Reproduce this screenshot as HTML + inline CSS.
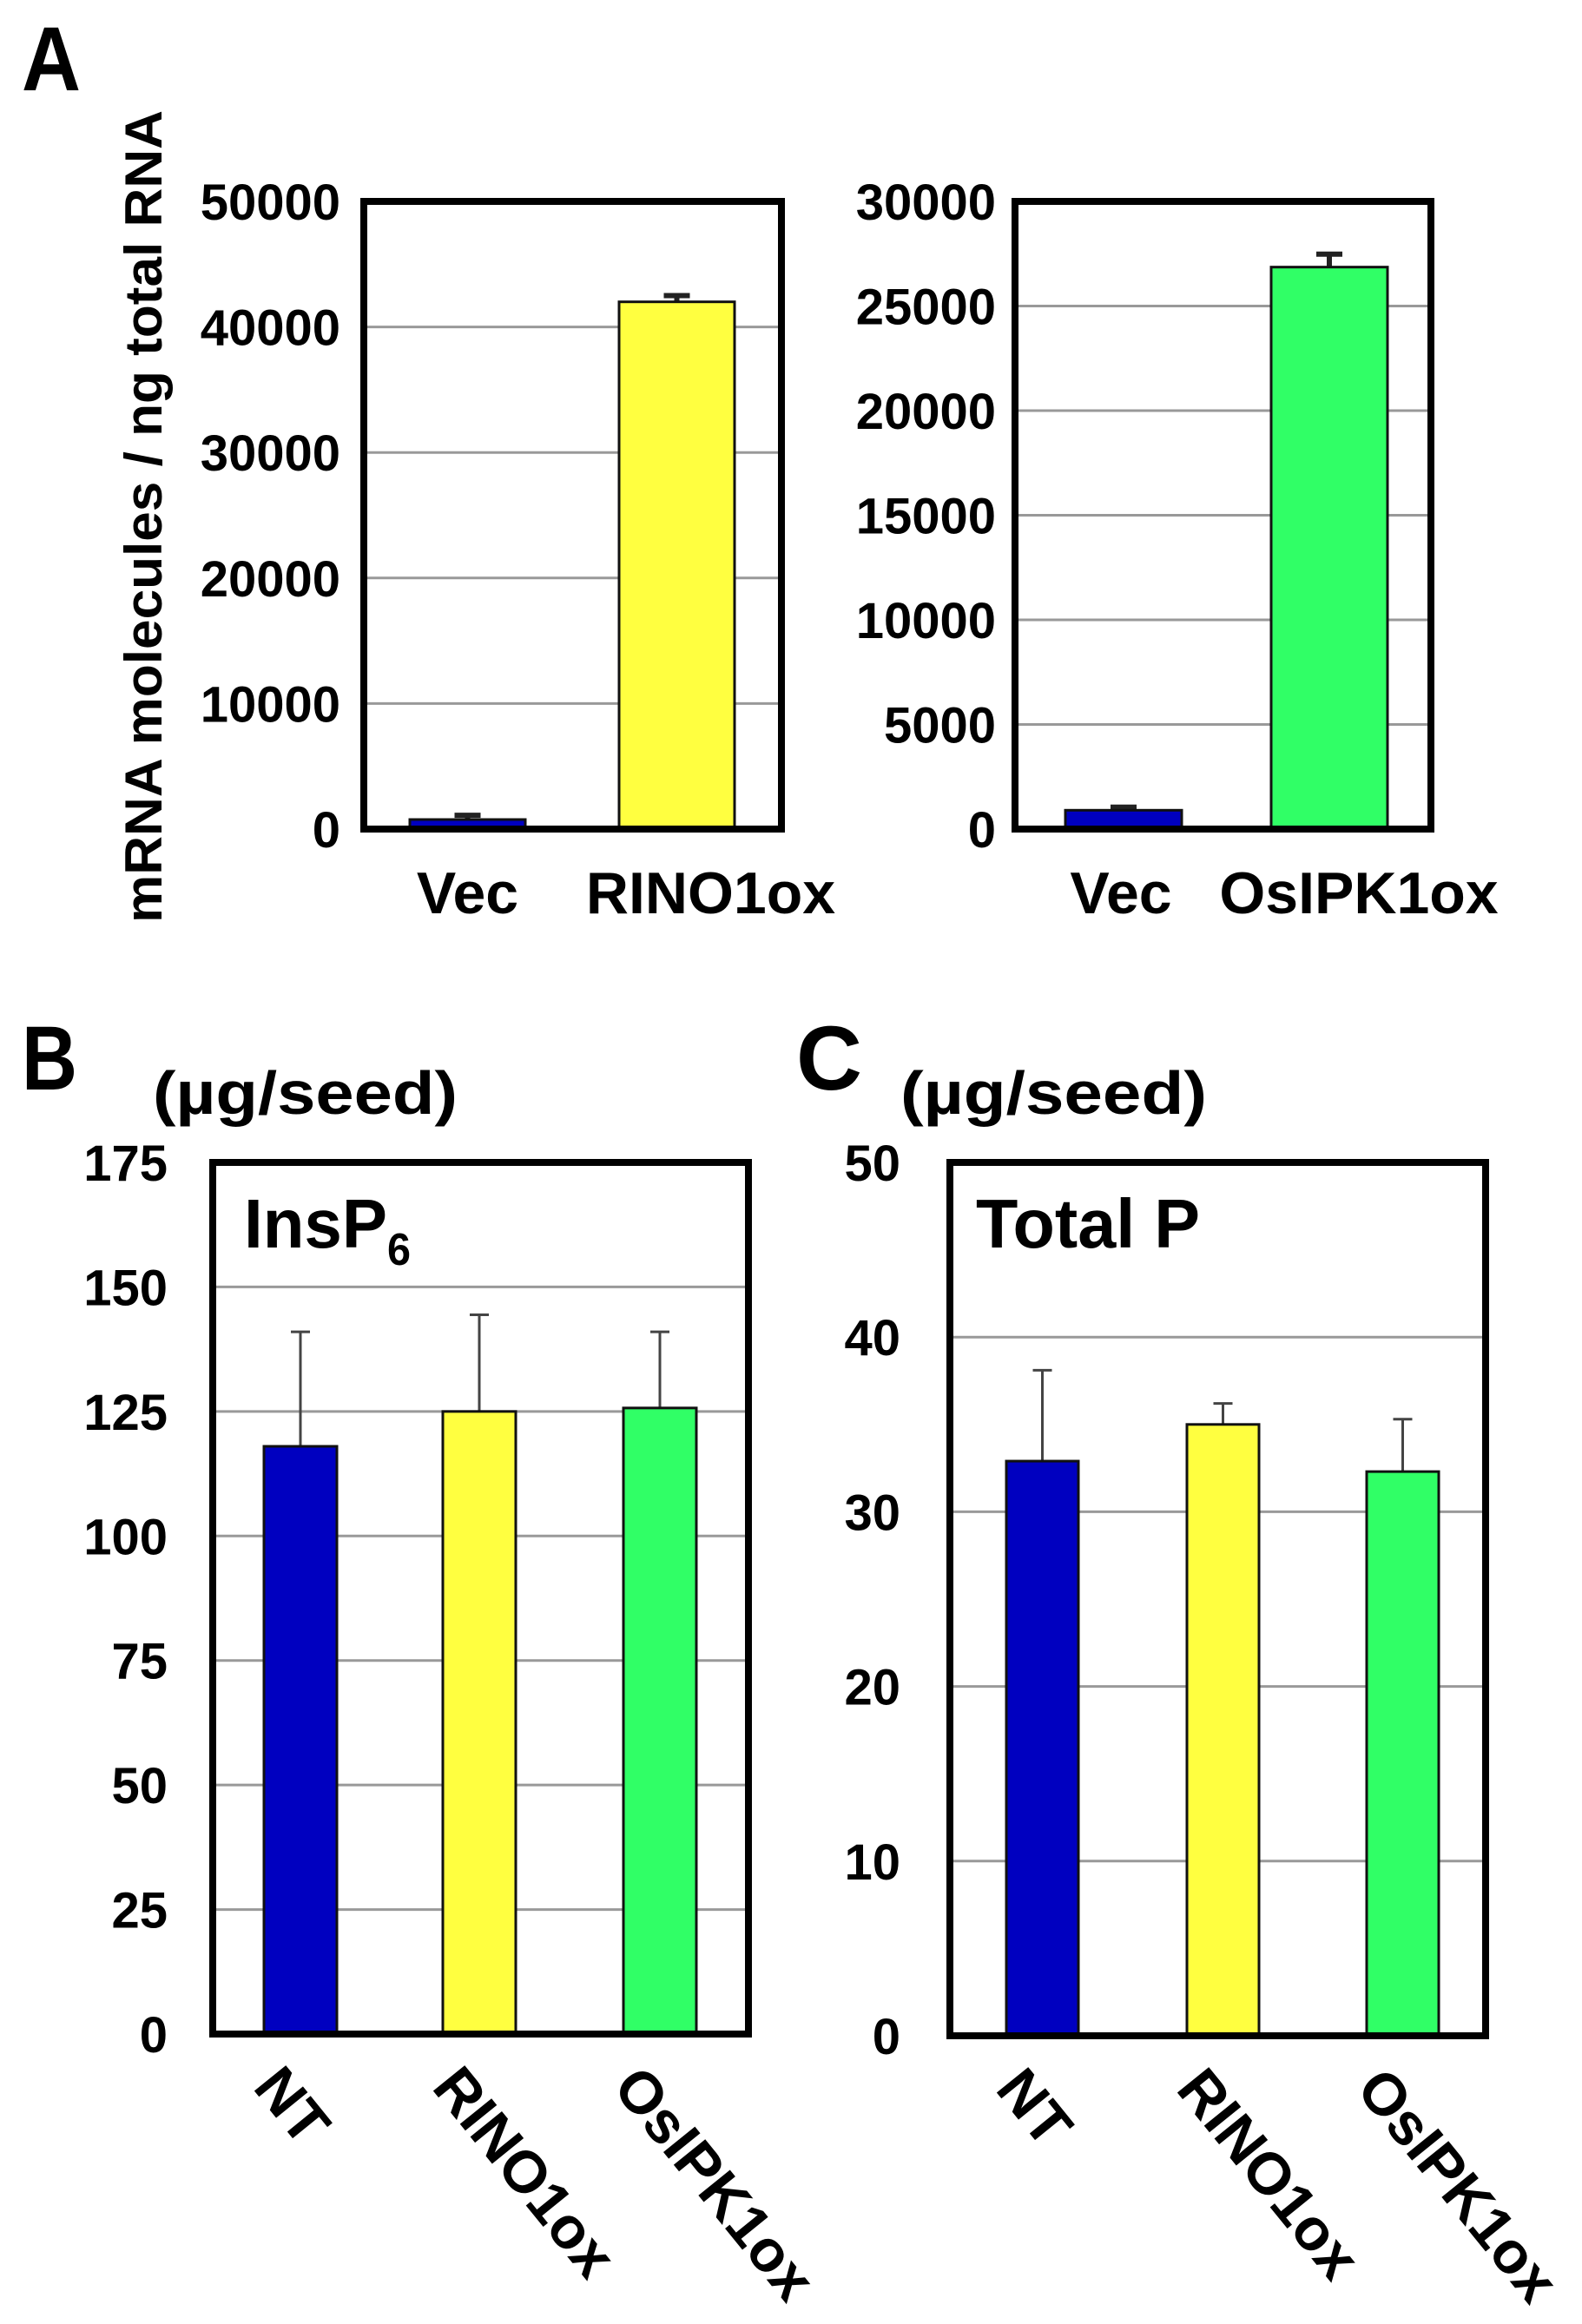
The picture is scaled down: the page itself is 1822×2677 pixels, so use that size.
<!DOCTYPE html>
<html><head><meta charset="utf-8"><style>
html,body{margin:0;padding:0;background:#fff;}
svg{display:block;font-family:"Liberation Sans",Arial,sans-serif;font-weight:bold;}
</style></head><body>
<svg id="fig" width="1822" height="2677" viewBox="0 0 1822 2677" xmlns="http://www.w3.org/2000/svg">
<text x="25" y="104" font-size="105" textLength="68" lengthAdjust="spacingAndGlyphs">A</text>
<text transform="translate(186,1063) rotate(-90)" font-size="60" textLength="936" lengthAdjust="spacingAndGlyphs">mRNA molecules / ng total RNA</text>
<text x="25" y="1255" font-size="105" textLength="64" lengthAdjust="spacingAndGlyphs">B</text>
<text x="176" y="1283" font-size="70" textLength="351" lengthAdjust="spacingAndGlyphs">(µg/seed)</text>
<text x="917" y="1255" font-size="105" textLength="76" lengthAdjust="spacingAndGlyphs">C</text>
<text x="1037" y="1283" font-size="70" textLength="353" lengthAdjust="spacingAndGlyphs">(µg/seed)</text>
<text x="281" y="1437" font-size="80" textLength="165" lengthAdjust="spacingAndGlyphs">InsP</text>
<text x="446" y="1457" font-size="52" textLength="27" lengthAdjust="spacingAndGlyphs">6</text>
<text x="1124" y="1437" font-size="80" textLength="258" lengthAdjust="spacingAndGlyphs">Total P</text>
<g id="charts"></g>
</svg>
<script>
// Panel A1
const a1Categories = ["Vec", "RINO1ox"];
const a1Values = [760, 42000];
const a1Errors = [340, 500];
const a1Ticks = [0, 10000, 20000, 30000, 40000, 50000];
// Panel A2
const a2Categories = ["Vec", "OsIPK1ox"];
const a2Values = [900, 26860];
const a2Errors = [150, 620];
const a2Ticks = [0, 5000, 10000, 15000, 20000, 25000, 30000];
// Panel B
const bCategories = ["NT", "RINO1ox", "OsIPK1ox"];
const bValues = [118, 125, 125.7];
const bErrors = [23, 19.4, 15.3];
const bTicks = [0, 25, 50, 75, 100, 125, 150, 175];
// Panel C
const cCategories = ["NT", "RINO1ox", "OsIPK1ox"];
const cValues = [32.9, 35.0, 32.3];
const cErrors = [5.2, 1.2, 3.0];
const cTicks = [0, 10, 20, 30, 40, 50];
const colorsA1 = ["#0000c0", "#ffff40"];
const colorsA2 = ["#0000c0", "#30ff66"];
const colorsBC = ["#0000c0", "#ffff40", "#30ff66"];

const NS = "http://www.w3.org/2000/svg";
const root = document.getElementById("charts");
function mk(tag, attrs, parent) {
  const e = document.createElementNS(NS, tag);
  for (const k in attrs) e.setAttribute(k, attrs[k]);
  (parent || root).appendChild(e);
  return e;
}

function chart(cfg) {
  const g = mk("g", {});
  
  
  const max = cfg.ticks[cfg.ticks.length - 1];
  const y = v => cfg.bottom - (v / max) * (cfg.bottom - cfg.top);
  cfg.ticks.forEach(t => {
    if (t > 0 && t < max) {
      const gl = mk("line", {x1: cfg.left, x2: cfg.right, y1: y(t), y2: y(t), stroke: "#999", "stroke-width": 3}, g);
      
      
    }
    const tl = mk("text", {x: cfg.tickRight, y: y(t) + 21, "font-size": cfg.tickFont, "text-anchor": "end"}, g);
    tl.textContent = t;
    
    
  });
  cfg.cats.forEach((c, i) => {
    const x0 = cfg.barX[i];
    const w = cfg.barW;
    const cx = x0 + w / 2;
    const ey = y(cfg.vals[i] + cfg.errs[i]);
    const el = mk("line", {x1: cx, x2: cx, y1: y(cfg.vals[i]), y2: ey, stroke: cfg.errColor, "stroke-width": cfg.errW}, g);
    
    
    const cap = mk("line", {x1: cx - cfg.capW / 2, x2: cx + cfg.capW / 2, y1: ey, y2: ey, stroke: cfg.errColor, "stroke-width": cfg.errW}, g);
    
    
    const r = mk("rect", {x: x0, y: y(cfg.vals[i]), width: w, height: cfg.bottom - y(cfg.vals[i]), fill: cfg.colors[i], stroke: "#111", "stroke-width": 3}, g);
    
    
    let lab;
    if (cfg.rotate) {
      lab = mk("text", {transform: "translate(" + (x0 - 14) + "," + (cfg.bottom + 62) + ") rotate(51)", "font-size": 68}, g);
    } else {
      lab = mk("text", {x: cx + (cfg.labDx ? cfg.labDx[i] : 0), y: cfg.labY, "font-size": 68, "text-anchor": "middle"}, g);
    }
    lab.textContent = c;
    
    
  });
  const fr = mk("rect", {x: cfg.left, y: cfg.top, width: cfg.right - cfg.left, height: cfg.bottom - cfg.top, fill: "none", stroke: "#000", "stroke-width": 8}, g);
  
  
}

chart({name: "chart-a-rino1", cats: a1Categories, vals: a1Values, errs: a1Errors, ticks: a1Ticks, colors: colorsA1,
  left: 419, right: 900, top: 232, bottom: 955, tickRight: 392, tickFont: 58, barX: [472, 713], barW: 133,
  capW: 30, errW: 6, errColor: "#222", labY: 1052, labDx: [0, 39]});
chart({name: "chart-a-osipk1", cats: a2Categories, vals: a2Values, errs: a2Errors, ticks: a2Ticks, colors: colorsA2,
  left: 1169, right: 1648, top: 232, bottom: 955, tickRight: 1147, tickFont: 58, barX: [1227, 1464], barW: 134,
  capW: 30, errW: 6, errColor: "#222", labY: 1052, labDx: [-3, 34]});
chart({name: "chart-b-insp6", cats: bCategories, vals: bValues, errs: bErrors, ticks: bTicks, colors: colorsBC,
  left: 245, right: 862, top: 1339, bottom: 2343, tickRight: 193, tickFont: 58, barX: [304, 510, 718], barW: 84,
  capW: 22, errW: 3, errColor: "#444", rotate: true});
chart({name: "chart-c-total-p", cats: cCategories, vals: cValues, errs: cErrors, ticks: cTicks, colors: colorsBC,
  left: 1094, right: 1711, top: 1339, bottom: 2345, tickRight: 1037, tickFont: 58, barX: [1159, 1367, 1574], barW: 83,
  capW: 22, errW: 3, errColor: "#444", rotate: true});
</script>
</body></html>
